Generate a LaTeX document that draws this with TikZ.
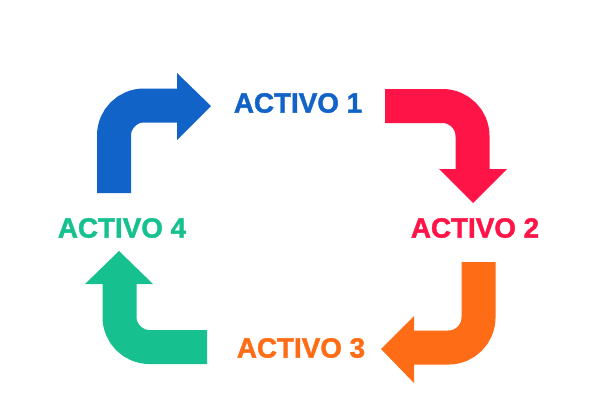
\documentclass[tikz,border=0pt]{standalone}
\usepackage{fontspec}
\newfontfamily\heavyfont[FakeBold=1.5]{Liberation Sans Bold}
\definecolor{bluecol}{RGB}{18,99,200}
\definecolor{redcol}{RGB}{255,20,72}
\definecolor{orangecol}{RGB}{255,108,22}
\definecolor{greencol}{RGB}{22,192,143}
\begin{document}
\begin{tikzpicture}[
  x=1pt, y=-1pt,
  label/.style={font=\heavyfont\fontsize{27.8}{30}\selectfont, inner sep=0pt},
  band/.style={line width=34pt, rounded corners=30pt},
  tip/.style={draw=none}
]
\useasboundingbox (0,0) rectangle (594,420);

% =================== labels ===================
\node[label, text=bluecol] (a1) at (298,103) {ACTIVO 1};
\node[label, text=redcol] (a2) at (475,228) {ACTIVO 2};
\node[label, text=orangecol] (a3) at (301,348) {ACTIVO 3};
\node[label, text=greencol] (a4) at (122,228) {ACTIVO 4};

% =================== arrows ===================
% activo 4 -> activo 1
\coordinate (b0) at (114,193);
\coordinate (b1) at (114,105.5);
\coordinate (b2) at (178,105.5);
\draw[band, bluecol] (b0) -- (b1) -- (b2);
\fill[tip, bluecol] (177,73) -- (211,106) -- (177,140) -- cycle;

% activo 1 -> activo 2
\coordinate (r0) at (385,106);
\coordinate (r1) at (472.5,106);
\coordinate (r2) at (472.5,170);
\draw[band, redcol] (r0) -- (r1) -- (r2);
\fill[tip, redcol] (439,169) -- (473,203) -- (507,169) -- cycle;

% activo 2 -> activo 3
\coordinate (o0) at (478.5,262);
\coordinate (o1) at (478.5,347.5);
\coordinate (o2) at (413,347.5);
\draw[band, orangecol] (o0) -- (o1) -- (o2);
\fill[tip, orangecol] (414,316) -- (381,349) -- (414,383) -- cycle;

% activo 3 -> activo 4
\coordinate (g0) at (207,347);
\coordinate (g1) at (119.5,347);
\coordinate (g2) at (119.5,283);
\draw[band, greencol] (g0) -- (g1) -- (g2);
\fill[tip, greencol] (85,284) -- (119,251) -- (153,284) -- cycle;

\end{tikzpicture}
\end{document}
